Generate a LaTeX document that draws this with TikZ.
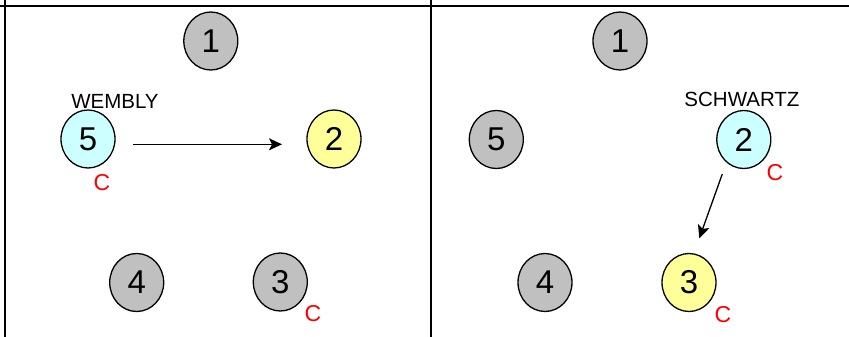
\documentclass[tikz,border=0pt]{standalone}
\usepackage{fontspec}
\setmainfont{Liberation Sans}
\usetikzlibrary{shapes.geometric,arrows.meta}
\definecolor{ballgray}{HTML}{C0C0C0}
\definecolor{ballcyan}{HTML}{CCFFFF}
\definecolor{ballyellow}{HTML}{FFFF99}
\definecolor{cred}{HTML}{FF0000}
\begin{document}
\begin{tikzpicture}[x=1pt,y=-1pt,
  ball/.style={ellipse,draw=black,line width=1.3pt,minimum width=54pt,minimum height=58pt,inner sep=0pt,font=\fontsize{33}{33}\selectfont},
  gball/.style={ball,fill=ballgray},
  cball/.style={ball,fill=ballcyan},
  yball/.style={ball,fill=ballyellow},
  cmark/.style={text=cred,font=\fontsize{23}{23}\selectfont,inner sep=0pt},
  pname/.style={font=\fontsize{20.5}{20.5}\selectfont,inner sep=0pt},
  frame/.style={line width=2pt,black},
  move/.style={line width=1.3pt,-{Stealth[length=13pt,width=12pt,inset=3pt]}}
]
\useasboundingbox (0,0) rectangle (849,337);
% frame lines
\draw[frame] (0,6) -- (849,6);
\draw[frame] (5,0) -- (5,337);
\draw[frame] (430.5,0) -- (430.5,337);
% left panel
\node[gball] (L1) at (210.8,41) {1};
\node[cball] (L5) at (88,139) {5};
\node[yball] (L2) at (334,139) {2};
\node[gball] (L4) at (136.7,282.5) {4};
\node[gball] (L3) at (280.3,282) {3};
\node[pname] (LW) at (115,101) {WEMBLY};
\node[cmark] (LC5) at (102,183) {C};
\node[cmark] (LC3) at (313,314) {C};
\coordinate (LA1) at (133,144.3);
\coordinate (LA2) at (282,144.3);
\draw[move] (LA1) -- (LA2);
% right panel
\node[gball] (R1) at (620,41) {1};
\node[gball] (R5) at (496.3,139.5) {5};
\node[cball] (R2) at (743.8,139.5) {2};
\node[gball] (R4) at (545,282.5) {4};
\node[yball] (R3) at (689,282.5) {3};
\node[pname] (RS) at (742,99.5) {SCHWARTZ};
\node[cmark] (RC2) at (775,172.5) {C};
\node[cmark] (RC3) at (723,315) {C};
\coordinate (RA1) at (722.3,174);
\coordinate (RA2) at (699.3,238.3);
\draw[move] (RA1) -- (RA2);
\end{tikzpicture}
\end{document}
